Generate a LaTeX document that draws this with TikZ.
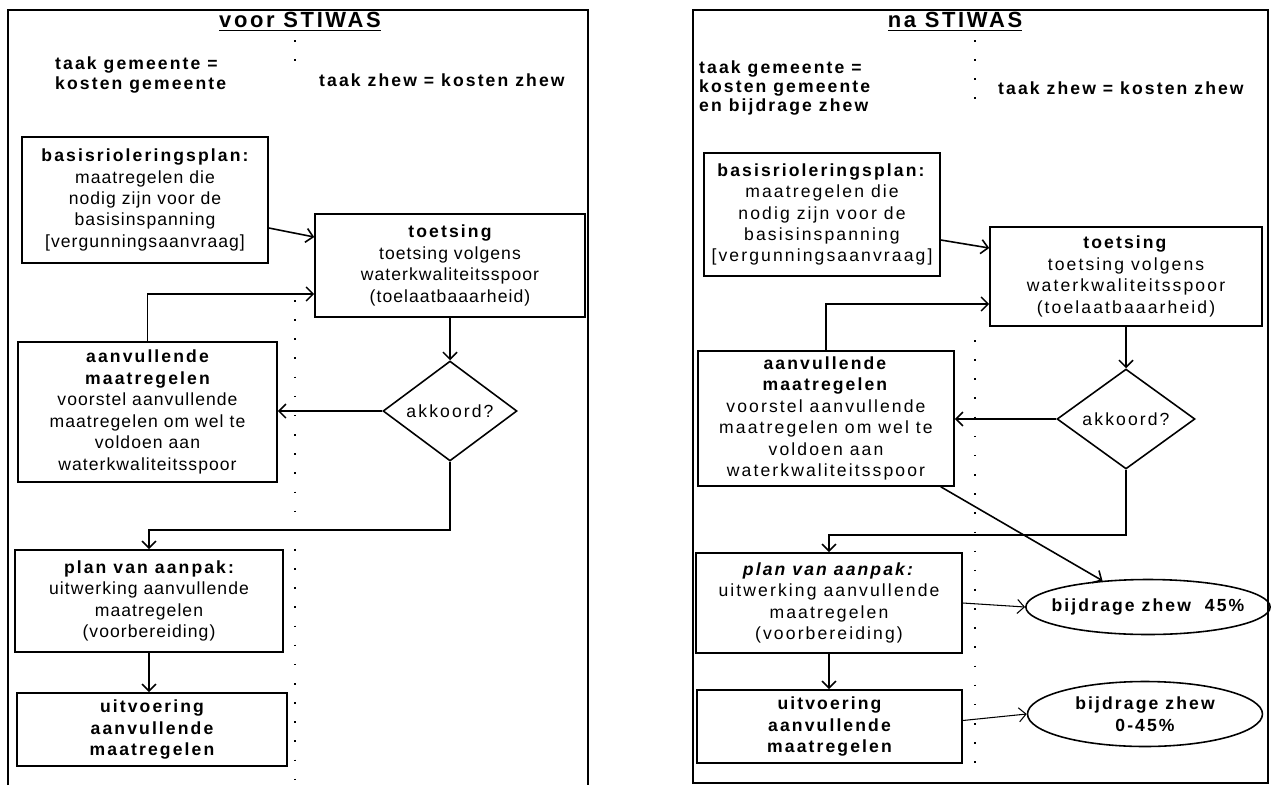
\documentclass[tikz,border=0pt]{standalone}
\usepackage{fontspec}
\setmainfont{Liberation Sans}[LetterSpace=12]
\newfontfamily\smalfont{Liberation Sans}[LetterSpace=6]
\newcommand\kop[1]{{\normalfont\bfseries #1}}
\usepackage{tikz}
\usetikzlibrary{arrows.meta,shapes.geometric}

\begin{document}
\begin{tikzpicture}[x=0.02cm,y=-0.02cm,
    txt/.style={font=\fontsize{10}{12.2}\selectfont,align=center},
    box/.style={txt,draw,line width=0.9pt,inner sep=2pt},
    lbox/.style={box,font=\fontsize{10}{12.2}\smalfont},
    ruit/.style={txt,draw,line width=0.9pt,diamond,inner sep=0pt},
    ovaal/.style={txt,draw,line width=0.9pt,ellipse,inner xsep=-0.2cm,inner ysep=0pt,font=\fontsize{10}{12.2}\selectfont\bfseries},
    kop/.style={font=\fontsize{12.5}{15}\selectfont\bfseries},
    arr/.style={line width=0.9pt,-{Straight Barb[length=4pt,width=8pt]}},
    dunarr/.style={line width=0.6pt,-{Straight Barb[length=4pt,width=8pt]}},
    stip/.style={line width=1pt,dash pattern=on 0.9pt off 10pt}]
  \useasboundingbox (0,0) rectangle (1272,785);

  % voor STIWAS
  \draw[line width=0.8pt] (8,785) -- (8,10) -- (588,10) -- (588,785);
  \node[kop] (ltitel) at (300,22) {\underline{voor STIWAS}};
  \node[txt,align=left,anchor=west,font=\fontsize{10}{11}\selectfont\bfseries] (lgem) at (49,75) {taak gemeente =\\kosten gemeente};
  \node[txt,anchor=west,font=\fontsize{10}{12}\selectfont\bfseries] (lzhew) at (313,80) {taak zhew = kosten zhew};
  \draw[stip] (295,40) -- (295,64);
  \draw[stip] (295,300) -- (295,785);

  \node[lbox,minimum width=4.92cm,minimum height=2.52cm] (lb) at (145,200)
    {\kop{basisrioleringsplan:}\\maatregelen die\\nodig zijn voor de\\basisinspanning\\{[}vergunningsaanvraag{]}};
  \node[lbox,minimum width=5.4cm,minimum height=2.06cm] (lt) at (450,265.5)
    {\kop{toetsing}\\toetsing volgens\\waterkwaliteitsspoor\\(toelaatbaaarheid)};
  \node[lbox,minimum width=5.18cm,minimum height=2.8cm] (la) at (147.5,412)
    {\kop{aanvullende}\\\kop{maatregelen}\\voorstel aanvullende\\maatregelen om wel te\\voldoen aan\\waterkwaliteitsspoor};
  \node[ruit,minimum width=2.68cm,minimum height=1.36cm] (ld) at (450,411) {akkoord?};
  \node[lbox,minimum width=5.36cm,minimum height=2.04cm] (lp) at (149,601)
    {\kop{plan van aanpak:}\\uitwerking aanvullende\\maatregelen\\(voorbereiding)};
  \node[box,minimum width=5.4cm,minimum height=1.46cm,font=\fontsize{10}{12.2}\selectfont\bfseries] (lu) at (152,729.5)
    {uitvoering\\aanvullende\\maatregelen};

  \draw[arr] ([yshift=-0.56cm]lb.east) -- ([yshift=0.57cm]lt.west);
  \draw[arr] (la.north) |- ([yshift=-0.57cm]lt.west);
  \draw[arr] (lt.south) -- (ld.north);
  \draw[arr] (ld.west) -- (la.east |- ld.west);
  \draw[arr] (ld.south) -- ++(0,68) -| (lp.north);
  \draw[arr] (lp.south) -- (lp.south |- lu.north);

  % na STIWAS
  \draw[line width=0.8pt] (693,10) rectangle (1268,783);
  \node[kop] (rtitel) at (955,22) {\underline{na STIWAS}};
  \node[txt,align=left,anchor=west,font=\fontsize{10}{11}\selectfont\bfseries] (rgem) at (693,88) {taak gemeente =\\kosten gemeente\\en bijdrage zhew};
  \node[txt,anchor=west,font=\fontsize{10}{12}\selectfont\bfseries] (rzhew) at (992,88) {taak zhew = kosten zhew};
  \draw[stip] (975,40) -- (975,112);
  \draw[stip] (975,340) -- (975,780);

  \node[box,minimum width=4.72cm,minimum height=2.46cm] (rb) at (822,214.5)
    {\textbf{basisrioleringsplan:}\\maatregelen die\\nodig zijn voor de\\basisinspanning\\{[}vergunningsaanvraag{]}};
  \node[box,minimum width=5.44cm,minimum height=1.98cm] (rt) at (1126,276.5)
    {\textbf{toetsing}\\toetsing volgens\\waterkwaliteitsspoor\\(toelaatbaaarheid)};
  \node[box,minimum width=5.12cm,minimum height=2.7cm] (ra) at (826,418.5)
    {\textbf{aanvullende}\\\textbf{maatregelen}\\voorstel aanvullende\\maatregelen om wel te\\voldoen aan\\waterkwaliteitsspoor};
  \node[ruit,minimum width=2.76cm,minimum height=1.36cm] (rd) at (1126,419) {akkoord?};
  \node[box,minimum width=5.32cm,minimum height=2cm] (rp) at (829,603)
    {\textbf{\itshape plan van aanpak:}\\uitwerking aanvullende\\maatregelen\\(voorbereiding)};
  \node[box,minimum width=5.3cm,minimum height=1.46cm,font=\fontsize{10}{12.2}\selectfont\bfseries] (ru) at (829.5,726.5)
    {uitvoering\\aanvullende\\maatregelen};
  \node[ovaal,minimum width=4.68cm,minimum height=1.1cm] (re1) at (1148,607) {bijdrage zhew\ \ 45\%};
  \node[ovaal,minimum width=4.7cm,minimum height=1.3cm] (re2) at (1145,714) {bijdrage zhew\\0-45\%};

  \draw[arr] ([yshift=-0.51cm]rb.east) -- ([yshift=0.57cm]rt.west);
  \draw[arr] (ra.north) |- ([yshift=-0.55cm]rt.west);
  \draw[arr] (rt.south) -- (rd.north);
  \draw[arr] (rd.west) -- (ra.east |- rd.west);
  \draw[arr] (rd.south) -- ++(0,65) -| (rp.north);
  \draw[arr] (rp.south) -- (rp.south |- ru.north);
  \draw[arr] ([xshift=-0.28cm]ra.south east) -- (re1.150);
  \draw[dunarr] (rp.east) -- (re1.west);
  \draw[dunarr] ([yshift=0.12cm]ru.east) -- (re2.west);
\end{tikzpicture}
\end{document}
